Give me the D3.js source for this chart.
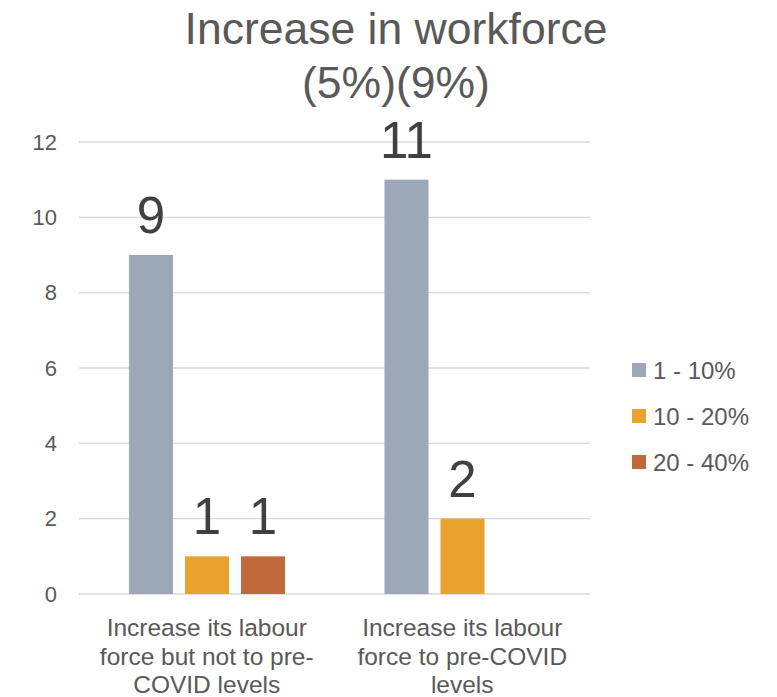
<!DOCTYPE html>
<html>
<head>
<meta charset="utf-8">
<script src="https://cdn.jsdelivr.net/npm/d3@7"></script>
<style>
  html, body { margin: 0; padding: 0; background: #fff; }
  svg { display: block; font-family: "Liberation Sans", Arial, sans-serif; }
</style>
</head>
<body>
<svg id="chart" width="777" height="697"></svg>
<script>
// Chart data
const titleLines = ["Increase in workforce", "(5%)(9%)"];
const categories = [
  "Increase its labour force but not to pre-COVID levels",
  "Increase its labour force to pre-COVID levels"
];
const categoryLines = [
  ["Increase its labour", "force but not to pre-", "COVID levels"],
  ["Increase its labour", "force to pre-COVID", "levels"]
];
const seriesNames = ["1 - 10%", "10 - 20%", "20 - 40%"];
const seriesColors = ["#9ca8b8", "#e8a22d", "#c0693b"];
const values1to10 = [9, 11];
const values10to20 = [1, 2];
const values20to40 = [1, null];
const yTicks = [0, 2, 4, 6, 8, 10, 12];

const seriesValues = [values1to10, values10to20, values20to40];

const svg = d3.select("#chart");
const plot = { left: 79, right: 590, top: 142, bottom: 594 };

const y = d3.scaleLinear().domain([0, 12]).range([plot.bottom, plot.top]);
const x0 = d3.scaleBand().domain(categories).range([plot.left, plot.right]).padding(0);
const x1 = d3.scaleBand().domain(seriesNames)
  .range([50, 206]).paddingInner(0.2143).paddingOuter(0);

// Gridlines
svg.append("g")
  .selectAll("line")
  .data(yTicks)
  .join("line")
  .attr("x1", plot.left).attr("x2", plot.right)
  .attr("y1", d => y(d)).attr("y2", d => y(d))
  .attr("stroke", "#d9d9d9").attr("stroke-width", 1.3);

// Y axis tick labels
const yAxis = d3.axisLeft(y).tickValues(yTicks).tickSize(0).tickPadding(0);
const gy = svg.append("g").attr("transform", `translate(57,0)`).call(yAxis);
gy.select(".domain").remove();
gy.selectAll("text")
  .attr("font-size", 22).attr("fill", "#595959")
  .attr("font-family", "Liberation Sans, Arial, sans-serif");

// Bars and value labels
const groups = svg.append("g").selectAll("g")
  .data(categories)
  .join("g")
  .attr("transform", d => `translate(${x0(d)},0)`);

const barData = (c, ci) => seriesNames.map((s, si) => ({
  series: s, color: seriesColors[si], value: seriesValues[si][ci]
})).filter(d => d.value != null);

groups.each(function (c, ci) {
  const g = d3.select(this);
  const data = barData(c, ci);
  g.selectAll("rect")
    .data(data)
    .join("rect")
    .attr("x", d => x1(d.series))
    .attr("width", x1.bandwidth())
    .attr("y", d => y(d.value))
    .attr("height", d => y(0) - y(d.value))
    .attr("fill", d => d.color);
  g.selectAll("text.val")
    .data(data)
    .join("text")
    .attr("class", "val")
    .attr("x", d => x1(d.series) + x1.bandwidth() / 2)
    .attr("y", d => y(d.value) - 22)
    .attr("text-anchor", "middle")
    .attr("font-size", 51)
    .attr("fill", "#404040")
    .text(d => d.value);
});

// Category labels
svg.append("g").selectAll("text")
  .data(categories)
  .join("text")
  .attr("text-anchor", "middle")
  .attr("font-size", 24.5)
  .attr("fill", "#595959")
  .each(function (c, i) {
    const t = d3.select(this);
    categoryLines[i].forEach((line, li) => {
      t.append("tspan")
        .attr("x", x0(c) + x0.bandwidth() / 2)
        .attr("y", 636 + li * 28.5)
        .text(line);
    });
  });

// Title
svg.append("g").selectAll("text")
  .data(titleLines)
  .join("text")
  .attr("x", 396)
  .attr("y", (d, i) => 44 + i * 54)
  .attr("text-anchor", "middle")
  .attr("font-size", 44.5)
  .attr("fill", "#595959")
  .text(d => d);

// Legend
const legend = svg.append("g").selectAll("g")
  .data(seriesNames)
  .join("g")
  .attr("transform", (d, i) => `translate(632, ${370 + i * 46})`);
legend.append("rect")
  .attr("x", 0).attr("y", -7).attr("width", 14).attr("height", 14)
  .attr("fill", (d, i) => seriesColors[i]);
legend.append("text")
  .attr("x", 21).attr("y", 8.5)
  .attr("font-size", 24)
  .attr("fill", "#595959")
  .text(d => d);
</script>
</body>
</html>
